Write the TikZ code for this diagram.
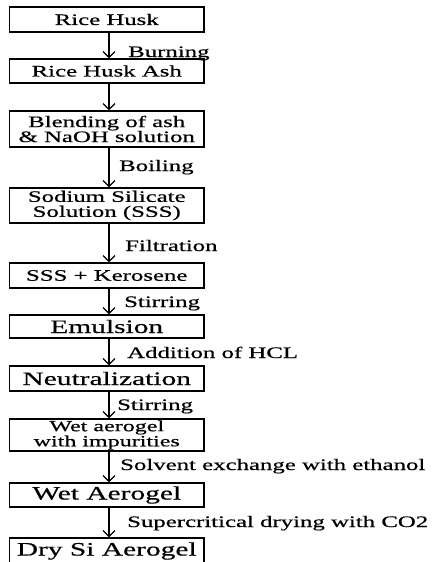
\documentclass[tikz,border=0pt]{standalone}
\usepackage{fontspec}
\setmainfont[FakeStretch=1.55,FakeBold=0.6]{Liberation Serif}
\usepackage{tikz}
\usetikzlibrary{arrows.meta}
\newcommand{\BoxFont}{\fontsize{16}{15}\selectfont}
\newcommand{\BigFont}{\fontsize{19}{18}\selectfont}
\newcommand{\SmallFont}{\fontsize{15.5}{13}\selectfont}
\newcommand{\LabelFont}{\fontsize{16}{16}\selectfont}

\tikzset{
  procbox/.style={draw, line width=1.2pt, minimum width=194.5pt,
                  inner sep=0pt, align=center, font=\BoxFont},
  flow/.style={line width=1.2pt, -{Straight Barb[length=6pt,width=12pt]}},
  lbl/.style={anchor=base west, inner sep=0pt, font=\LabelFont}
}

\begin{document}
\begin{tikzpicture}[x=1pt,y=-1pt]
      \useasboundingbox (0,0) rectangle (431,562);
      \clip (0,0) rectangle (431,562);
      % process boxes
      \node[procbox, minimum height=25pt] (husk) at (106.75,19.5) {Rice Husk};
      \node[procbox, minimum height=24pt] (ash) at (106.75,71) {Rice Husk Ash};
      \node[procbox, minimum height=36pt] (blend) at (106.75,129)
            {Blending of ash\\ \& NaOH solution};
      \node[procbox, minimum height=35pt] (sss) at (106.75,205.5)
            {Sodium Silicate\\ Solution (SSS)};
      \node[procbox, minimum height=25pt] (kero) at (106.75,275.5) {SSS + Kerosene};
      \node[procbox, minimum height=23pt, font=\BigFont] (emul) at (106.75,326.5) {Emulsion};
      \node[procbox, minimum height=25pt, font=\BigFont] (neut) at (106.75,378.5) {Neutralization};
      \node[procbox, minimum height=32pt, font=\SmallFont] (impure) at (106.75,435)
            {Wet aerogel\\ with impurities};
      \node[procbox, minimum height=24pt, font=\BigFont] (wet) at (106.75,495) {Wet Aerogel};
      \node[procbox, minimum height=26pt, font=\BigFont] (dry) at (106.75,551) {Dry Si Aerogel};
      % connectors
      \draw[flow] ([xshift=2.25pt]husk.south) -- ([xshift=2.25pt]ash.north);
      \draw[flow] ([xshift=2.25pt]ash.south) -- ([xshift=2.25pt]blend.north);
      \draw[flow] ([xshift=2.25pt]blend.south) -- ([xshift=2.25pt]sss.north);
      \draw[flow] ([xshift=2.25pt]sss.south) -- ([xshift=2.25pt]kero.north);
      \draw[flow] ([xshift=2.25pt]kero.south) -- ([xshift=2.25pt]emul.north);
      \draw[flow] ([xshift=2.25pt]emul.south) -- ([xshift=2.25pt]neut.north);
      \draw[flow] ([xshift=2.25pt]neut.south) -- ([xshift=2.25pt]impure.north);
      \draw[flow] ([xshift=2.25pt]impure.south) -- ([xshift=2.25pt]wet.north);
      \draw[flow] ([xshift=2.25pt]wet.south) -- ([xshift=2.25pt]dry.north);
      % step labels
      \node[lbl] (burnlbl) at (128,57) {Burning};
      \node[lbl] (boillbl) at (119,171) {Boiling};
      \node[lbl] (filtlbl) at (125,251) {Filtration};
      \node[lbl] (stirlbl) at (124,307) {Stirring};
      \node[lbl] (hcllbl) at (127,358) {Addition of HCL};
      \node[lbl] (stirlblb) at (117,410) {Stirring};
      \node[lbl] (ethlbl) at (120,470) {Solvent exchange with ethanol};
      \node[lbl] (co2lbl) at (127,527) {Supercritical drying with CO2};
\end{tikzpicture}
\end{document}
